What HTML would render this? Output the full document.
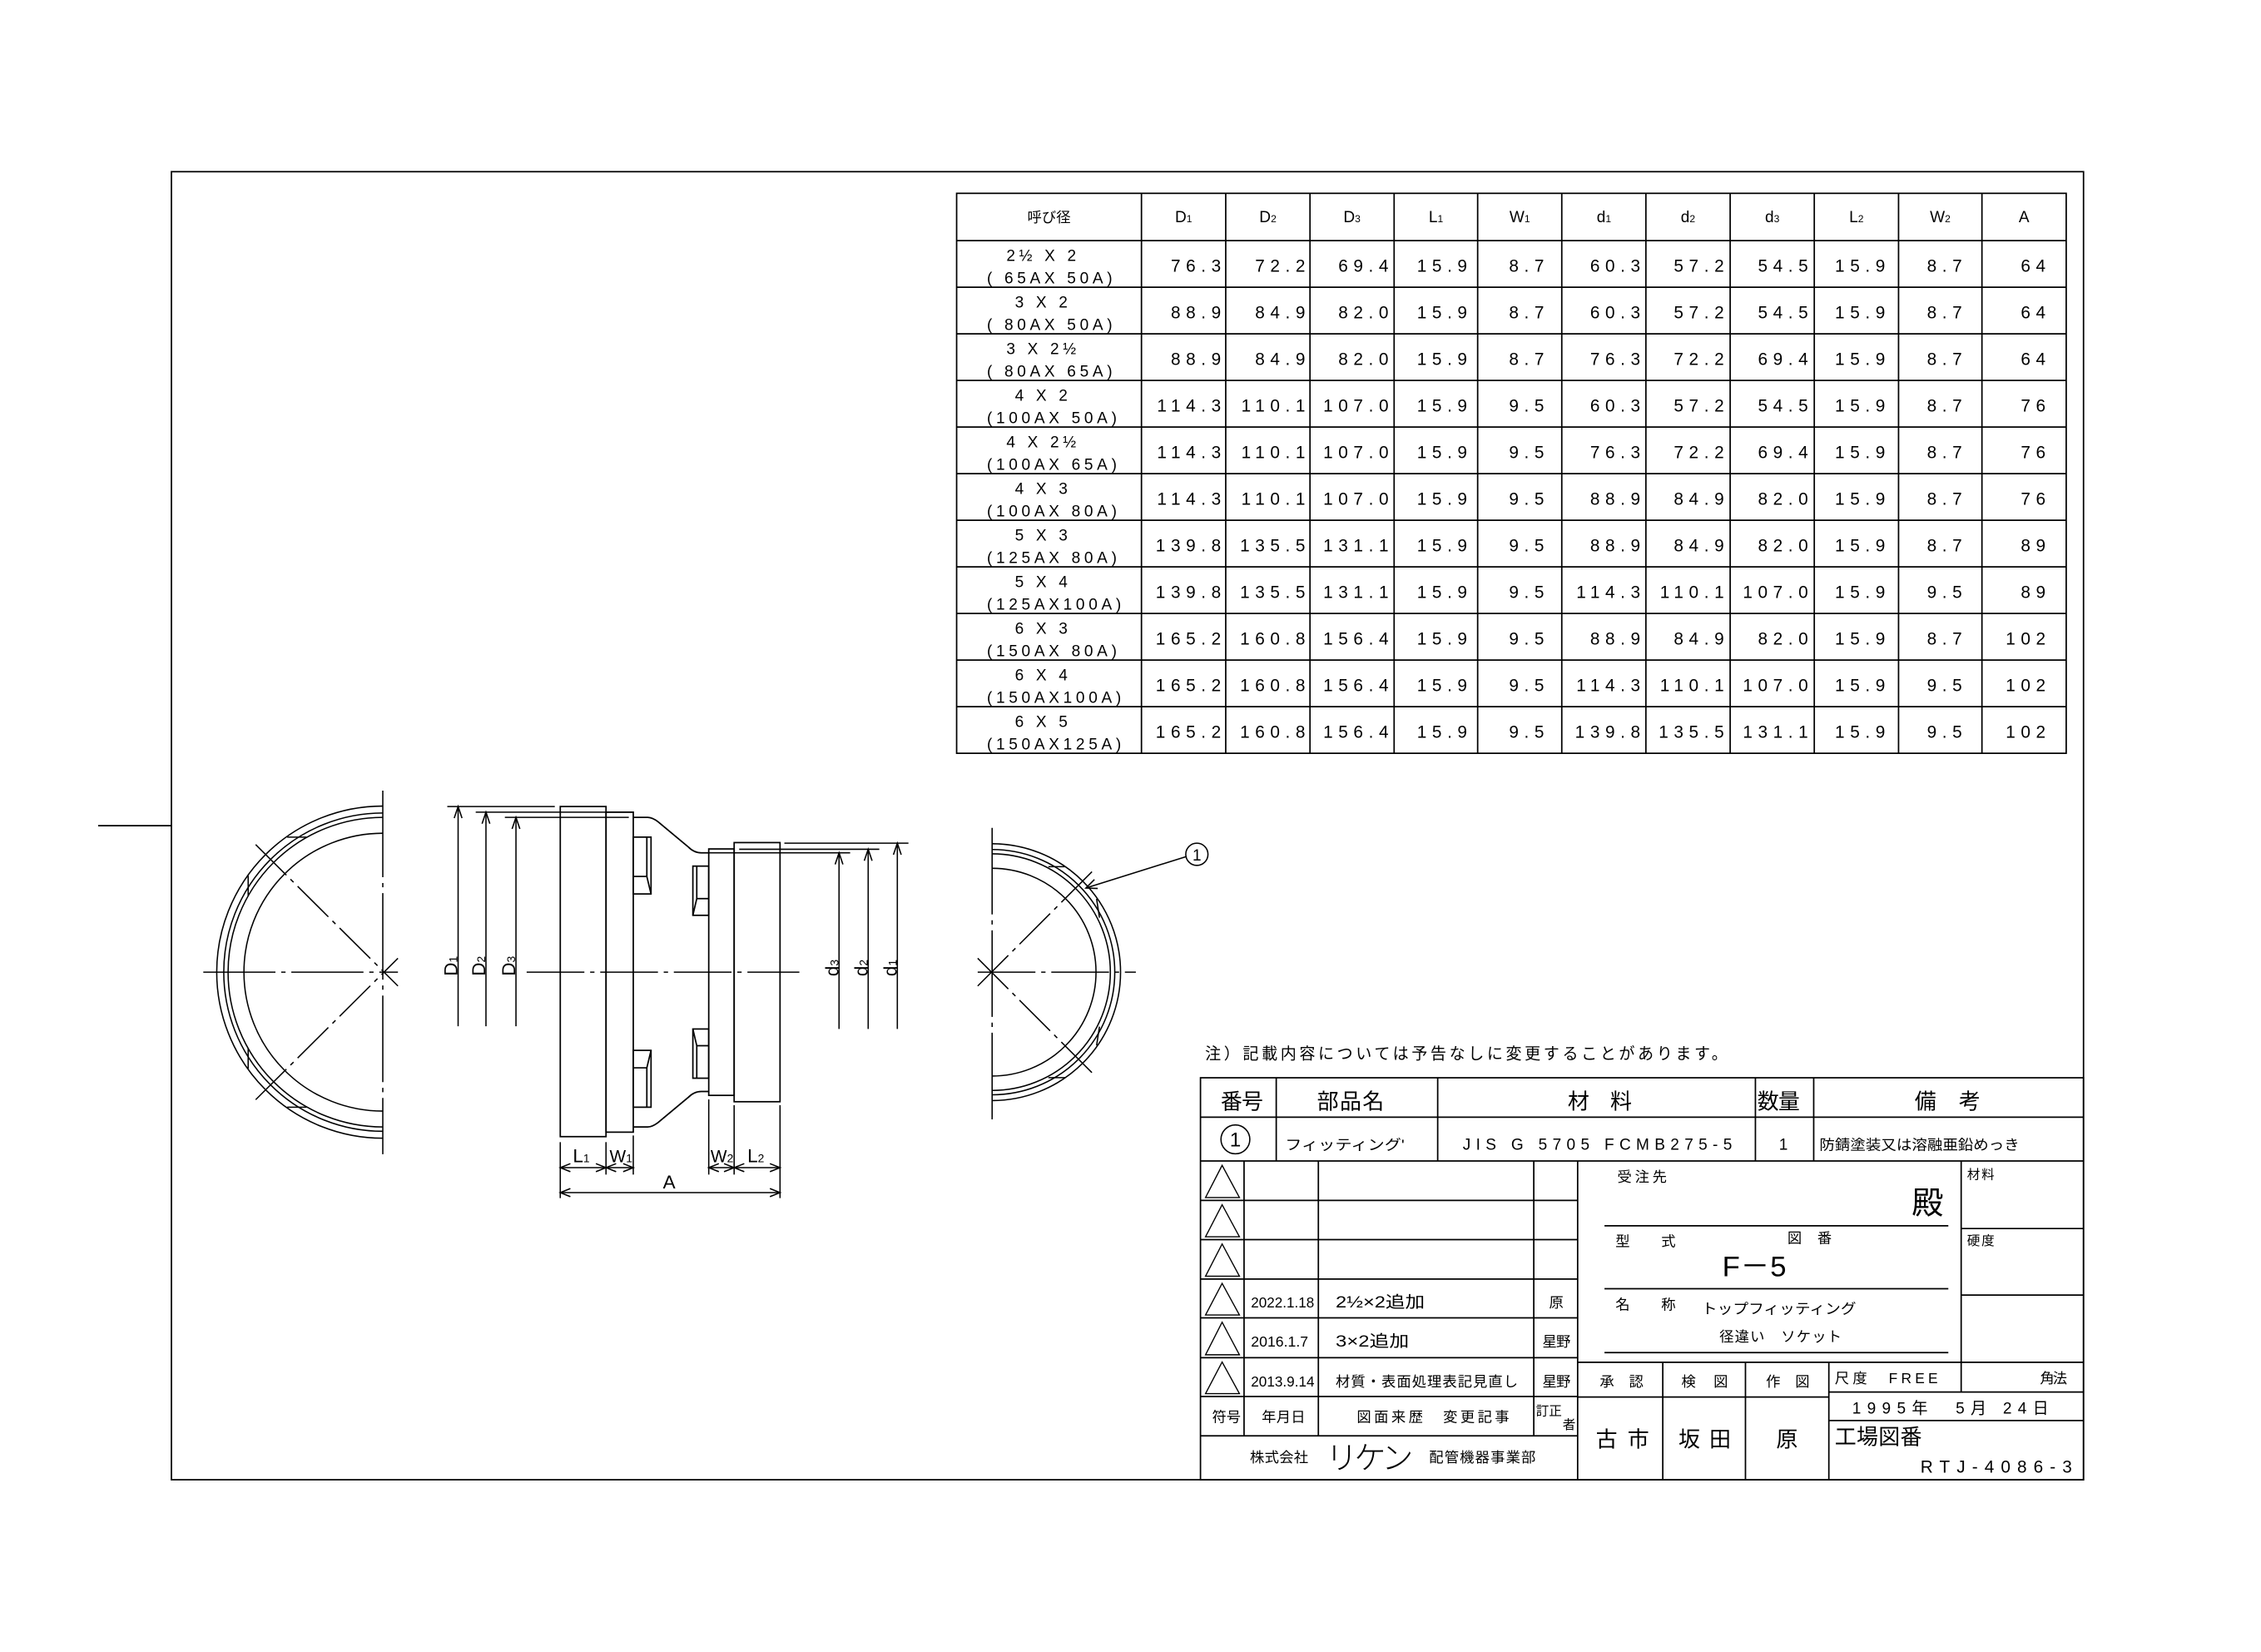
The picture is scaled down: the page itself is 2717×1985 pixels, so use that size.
<!DOCTYPE html>
<html><head><meta charset="utf-8">
<style>
html,body{margin:0;padding:0;background:#fff;}
svg{display:block;}
text{font-family:"Liberation Sans","Noto Sans CJK JP",sans-serif;fill:#000;white-space:pre;}
.n{font-size:12px;letter-spacing:3.8px;text-anchor:end;}
.c1{font-size:11px;letter-spacing:2.7px;}
.h{font-size:11px;text-anchor:middle;}
.j{font-family:"Noto Sans CJK JP","Liberation Sans",sans-serif;}
</style></head>
<body>
<svg width="2717" height="1985" viewBox="0 0 1567 1145" preserveAspectRatio="none" xmlns="http://www.w3.org/2000/svg">
<rect x="0" y="0" width="1567" height="1145" fill="#fff"/>
<g fill="none" stroke="#000" stroke-width="1">
<rect x="118.8" y="119" width="1325.2" height="906.6"/>
<line x1="68" y1="572.3" x2="118.8" y2="572.3"/>

<rect x="663" y="134" width="769" height="388.1"/>
<line x1="663" y1="166.8" x2="1432" y2="166.8"/>
<line x1="663" y1="199.1" x2="1432" y2="199.1"/>
<line x1="663" y1="231.4" x2="1432" y2="231.4"/>
<line x1="663" y1="263.7" x2="1432" y2="263.7"/>
<line x1="663" y1="296" x2="1432" y2="296"/>
<line x1="663" y1="328.3" x2="1432" y2="328.3"/>
<line x1="663" y1="360.6" x2="1432" y2="360.6"/>
<line x1="663" y1="392.9" x2="1432" y2="392.9"/>
<line x1="663" y1="425.2" x2="1432" y2="425.2"/>
<line x1="663" y1="457.5" x2="1432" y2="457.5"/>
<line x1="663" y1="489.8" x2="1432" y2="489.8"/>
<line x1="791.1" y1="134" x2="791.1" y2="522.1"/>
<line x1="849.5" y1="134" x2="849.5" y2="522.1"/>
<line x1="907.9" y1="134" x2="907.9" y2="522.1"/>
<line x1="966.2" y1="134" x2="966.2" y2="522.1"/>
<line x1="1024.1" y1="134" x2="1024.1" y2="522.1"/>
<line x1="1082.4" y1="134" x2="1082.4" y2="522.1"/>
<line x1="1140.7" y1="134" x2="1140.7" y2="522.1"/>
<line x1="1199.1" y1="134" x2="1199.1" y2="522.1"/>
<line x1="1257.4" y1="134" x2="1257.4" y2="522.1"/>
<line x1="1315.8" y1="134" x2="1315.8" y2="522.1"/>
<line x1="1373.6" y1="134" x2="1373.6" y2="522.1"/>

<!-- LEFT VIEW -->
<g stroke-width="0.9">
<path d="M265.3,558.7 A115,115 0 0 0 265.3,788.9"/>
<path d="M265.3,563.5 A110.3,110.3 0 0 0 265.3,784.1"/>
<path d="M265.3,566.5 A107.3,107.3 0 0 0 265.3,781.1"/>
<path d="M265.3,577.5 A96.3,96.3 0 0 0 265.3,770.1"/>
<line x1="199" y1="580.2" x2="212.4" y2="580.2"/>
<line x1="199" y1="767.4" x2="212.4" y2="767.4"/>
<line x1="172" y1="607" x2="172" y2="621"/>
<line x1="172" y1="726.6" x2="172" y2="740.6"/>
<line x1="265.3" y1="548" x2="265.3" y2="800" stroke-dasharray="60 4 3 4"/>
<line x1="140.9" y1="673.8" x2="275.8" y2="673.8" stroke-dasharray="50 4 3 4"/>
<line x1="177.2" y1="585.4" x2="275.8" y2="683.4" stroke-dasharray="30 4 3 4"/>
<line x1="177.2" y1="762.2" x2="275.8" y2="664.2" stroke-dasharray="30 4 3 4"/>
</g>

<!-- SIDE VIEW -->
<rect x="388.3" y="559" width="31.7" height="228.8"/>
<rect x="420" y="562.9" width="18.9" height="221.8"/>
<path d="M438.9,566.5 L448.9,566.5 Q452,566.5 456,569.5 L477,587 Q481,591.1 486,591.1 L491.2,591.1"/>
<path d="M438.9,781.1 L448.9,781.1 Q452,781.1 456,778.1 L477,760.6 Q481,756.5 486,756.5 L491.2,756.5"/>
<rect x="438.9" y="580.2" width="12.3" height="39.4"/>
<path d="M448.3,580.2 L448.3,607.5 L438.9,607.5 M448.3,607.5 L451.2,619.6"/>
<rect x="438.9" y="728" width="12.3" height="39.4"/>
<path d="M448.3,767.4 L448.3,740.1 L438.9,740.1 M448.3,740.1 L451.2,728"/>
<rect x="480.2" y="600.3" width="11" height="34.1"/>
<path d="M482.9,600.3 L482.9,622.8 L491.2,622.8 M482.9,622.8 L480.2,634.4"/>
<rect x="480.2" y="713.2" width="11" height="34.1"/>
<path d="M482.9,747.3 L482.9,724.8 L491.2,724.8 M482.9,724.8 L480.2,713.2"/>
<rect x="491.2" y="588.4" width="17.6" height="170.8"/>
<rect x="508.8" y="584" width="31.8" height="179.6"/>
<line x1="365" y1="673.8" x2="554" y2="673.8" stroke-width="0.9" stroke-dasharray="40 4 3 4"/>

<g stroke-width="0.9">
<line x1="310" y1="559" x2="384.5" y2="559"/>
<line x1="329.7" y1="562.9" x2="438.9" y2="562.9"/>
<line x1="349.9" y1="566.5" x2="435.8" y2="566.5"/>
<line x1="317.5" y1="559" x2="317.5" y2="711.3"/>
<line x1="336.8" y1="562.9" x2="336.8" y2="711.3"/>
<line x1="357.6" y1="566.5" x2="357.6" y2="711.3"/>
<path d="M314.8,567 L317.5,559 L320.2,567"/>
<path d="M334.1,570.9 L336.8,562.9 L339.5,570.9"/>
<path d="M354.9,574.5 L357.6,566.5 L360.3,574.5"/>
<line x1="543.6" y1="584.4" x2="629.6" y2="584.4"/>
<line x1="512.3" y1="588.6" x2="609.4" y2="588.6"/>
<line x1="491.2" y1="591.1" x2="589.2" y2="591.1"/>
<line x1="621.9" y1="584.4" x2="621.9" y2="713.2"/>
<line x1="601.7" y1="588.6" x2="601.7" y2="713.2"/>
<line x1="581.5" y1="591.1" x2="581.5" y2="713.2"/>
<path d="M619.2,592.4 L621.9,584.4 L624.6,592.4"/>
<path d="M599,596.6 L601.7,588.6 L604.4,596.6"/>
<path d="M578.8,599.1 L581.5,591.1 L584.2,599.1"/>
<line x1="388.3" y1="791.6" x2="388.3" y2="830.4"/>
<line x1="420" y1="791.6" x2="420" y2="814.1"/>
<line x1="438.9" y1="787" x2="438.9" y2="814.1"/>
<line x1="491.2" y1="762" x2="491.2" y2="814.1"/>
<line x1="508.8" y1="766" x2="508.8" y2="814.1"/>
<line x1="540.6" y1="766" x2="540.6" y2="830.4"/>
<line x1="388.3" y1="809.3" x2="438.9" y2="809.3"/>
<line x1="491.2" y1="809.3" x2="540.6" y2="809.3"/>
<line x1="388.3" y1="826.6" x2="540.6" y2="826.6"/>
<path d="M395.3,806.5 L388.3,809.3 L395.3,812.1 M413,806.5 L420,809.3 L413,812.1 M427,806.5 L420,809.3 L427,812.1 M431.9,806.5 L438.9,809.3 L431.9,812.1"/>
<path d="M498.2,806.5 L491.2,809.3 L498.2,812.1 M501.8,806.5 L508.8,809.3 L501.8,812.1 M515.8,806.5 L508.8,809.3 L515.8,812.1 M533.6,806.5 L540.6,809.3 L533.6,812.1"/>
<path d="M395.3,823.8 L388.3,826.6 L395.3,829.4 M533.6,823.8 L540.6,826.6 L533.6,829.4"/>
</g>

<!-- RIGHT VIEW -->
<g stroke-width="0.9">
<path d="M687.6,584.8 A89,89 0 0 1 687.6,762.8"/>
<path d="M687.6,588.8 A85,85 0 0 1 687.6,758.8"/>
<path d="M687.6,591.8 A82,82 0 0 1 687.6,755.8"/>
<path d="M687.6,601.8 A72,72 0 0 1 687.6,745.8"/>
<line x1="726.6" y1="600.7" x2="738.2" y2="600.7"/>
<line x1="726.6" y1="746.9" x2="738.2" y2="746.9"/>
<line x1="760" y1="623" x2="762" y2="636"/>
<line x1="760" y1="724.6" x2="762" y2="711.6"/>
<line x1="687.6" y1="573.8" x2="687.6" y2="776" stroke-dasharray="60 4 3 4"/>
<line x1="677.6" y1="673.8" x2="787.2" y2="673.8" stroke-dasharray="40 4 3 4"/>
<line x1="677.6" y1="683.4" x2="757.4" y2="603.6" stroke-dasharray="30 4 3 4"/>
<line x1="677.6" y1="664.2" x2="757.4" y2="744.1" stroke-dasharray="30 4 3 4"/>
<circle cx="829.5" cy="592.1" r="7.7"/>
<line x1="822.4" y1="593.6" x2="752.6" y2="615.5"/>
<path d="M758.5,609.6 L752.6,615.5 L760.8,615.8"/>
</g>

<!-- TITLE BLOCK -->
<rect x="832" y="747" width="612" height="278.6"/>
<line x1="832" y1="774.3" x2="1444" y2="774.3"/>
<line x1="832" y1="804.7" x2="1444" y2="804.7"/>
<line x1="884.5" y1="747" x2="884.5" y2="804.7"/>
<line x1="996.4" y1="747" x2="996.4" y2="804.7"/>
<line x1="1216.6" y1="747" x2="1216.6" y2="804.7"/>
<line x1="1257" y1="747" x2="1257" y2="804.7"/>
<line x1="832" y1="832" x2="1093.4" y2="832"/>
<line x1="832" y1="859.2" x2="1093.4" y2="859.2"/>
<line x1="832" y1="886.5" x2="1093.4" y2="886.5"/>
<line x1="832" y1="913.4" x2="1093.4" y2="913.4"/>
<line x1="832" y1="941" x2="1093.4" y2="941"/>
<line x1="832" y1="967.9" x2="1093.4" y2="967.9"/>
<line x1="832" y1="995.2" x2="1093.4" y2="995.2"/>
<line x1="862.2" y1="804.7" x2="862.2" y2="995.2"/>
<line x1="913.7" y1="804.7" x2="913.7" y2="995.2"/>
<line x1="1063" y1="804.7" x2="1063" y2="995.2"/>
<line x1="1093.4" y1="804.7" x2="1093.4" y2="1025.6"/>
<line x1="1112" y1="849.6" x2="1350.3" y2="849.6"/>
<line x1="1112" y1="893.2" x2="1350.3" y2="893.2"/>
<line x1="1112" y1="937.5" x2="1350.3" y2="937.5"/>
<line x1="1359.2" y1="804.7" x2="1359.2" y2="944.2"/>
<line x1="1359.2" y1="851.5" x2="1444" y2="851.5"/>
<line x1="1359.2" y1="897.6" x2="1444" y2="897.6"/>
<line x1="1093.4" y1="944.2" x2="1444" y2="944.2"/>
<line x1="1152.4" y1="944.2" x2="1152.4" y2="1025.6"/>
<line x1="1209.7" y1="944.2" x2="1209.7" y2="1025.6"/>
<line x1="1267.5" y1="944.2" x2="1267.5" y2="1025.6"/>
<line x1="1093.4" y1="968.3" x2="1267.5" y2="968.3"/>
<line x1="1359.2" y1="944.2" x2="1359.2" y2="964.8"/>
<line x1="1267.5" y1="964.8" x2="1444" y2="964.8"/>
<line x1="1267.5" y1="984.6" x2="1444" y2="984.6"/>
<g stroke-width="0.8">
<path d="M847,807.7 L835.5,830 L859,830 Z"/>
<path d="M847,835 L835.5,857.2 L859,857.2 Z"/>
<path d="M847,862.2 L835.5,884.5 L859,884.5 Z"/>
<path d="M847,889.5 L835.5,911.4 L859,911.4 Z"/>
<path d="M847,916.4 L835.5,939 L859,939 Z"/>
<path d="M847,944 L835.5,965.9 L859,965.9 Z"/>
</g>
<circle cx="856.2" cy="789.7" r="10" stroke-width="0.9"/>
</g>

<g class="j" font-size="10" text-anchor="middle"><text x="727" y="154" font-size="10">呼び径</text></g>
<g class="h">
<text x="820.3" y="154">D<tspan font-size="7">1</tspan></text>
<text x="878.7" y="154">D<tspan font-size="7">2</tspan></text>
<text x="937" y="154">D<tspan font-size="7">3</tspan></text>
<text x="995.2" y="154">L<tspan font-size="7">1</tspan></text>
<text x="1053.3" y="154">W<tspan font-size="7">1</tspan></text>
<text x="1111.6" y="154">d<tspan font-size="7">1</tspan></text>
<text x="1169.9" y="154">d<tspan font-size="7">2</tspan></text>
<text x="1228.3" y="154">d<tspan font-size="7">3</tspan></text>
<text x="1286.6" y="154">L<tspan font-size="7">2</tspan></text>
<text x="1344.7" y="154">W<tspan font-size="7">2</tspan></text>
<text x="1402.8" y="154">A</text>
</g>

<g class="c1">
<g transform="translate(0,166.8)"><text x="723" y="14" text-anchor="middle">2½ X 2</text><text x="684" y="29.5">( 65AX 50A)</text></g>
<g transform="translate(0,199.1)"><text x="723" y="14" text-anchor="middle">3 X 2</text><text x="684" y="29.5">( 80AX 50A)</text></g>
<g transform="translate(0,231.4)"><text x="723" y="14" text-anchor="middle">3 X 2½</text><text x="684" y="29.5">( 80AX 65A)</text></g>
<g transform="translate(0,263.7)"><text x="723" y="14" text-anchor="middle">4 X 2</text><text x="684" y="29.5">(100AX 50A)</text></g>
<g transform="translate(0,296)"><text x="723" y="14" text-anchor="middle">4 X 2½</text><text x="684" y="29.5">(100AX 65A)</text></g>
<g transform="translate(0,328.3)"><text x="723" y="14" text-anchor="middle">4 X 3</text><text x="684" y="29.5">(100AX 80A)</text></g>
<g transform="translate(0,360.6)"><text x="723" y="14" text-anchor="middle">5 X 3</text><text x="684" y="29.5">(125AX 80A)</text></g>
<g transform="translate(0,392.9)"><text x="723" y="14" text-anchor="middle">5 X 4</text><text x="684" y="29.5">(125AX100A)</text></g>
<g transform="translate(0,425.2)"><text x="723" y="14" text-anchor="middle">6 X 3</text><text x="684" y="29.5">(150AX 80A)</text></g>
<g transform="translate(0,457.5)"><text x="723" y="14" text-anchor="middle">6 X 4</text><text x="684" y="29.5">(150AX100A)</text></g>
<g transform="translate(0,489.8)"><text x="723" y="14" text-anchor="middle">6 X 5</text><text x="684" y="29.5">(150AX125A)</text></g>
</g>

<g class="n">
<g transform="translate(0,188.4)"><text x="850">76.3</text><text x="908.4">72.2</text><text x="966.1">69.4</text><text x="1020.6">15.9</text><text x="1073.9">8.7</text><text x="1140.6">60.3</text><text x="1198.6">57.2</text><text x="1256.9">54.5</text><text x="1310.3">15.9</text><text x="1363.6">8.7</text><text x="1421.5">64</text></g>
<g transform="translate(0,220.7)"><text x="850">88.9</text><text x="908.4">84.9</text><text x="966.1">82.0</text><text x="1020.6">15.9</text><text x="1073.9">8.7</text><text x="1140.6">60.3</text><text x="1198.6">57.2</text><text x="1256.9">54.5</text><text x="1310.3">15.9</text><text x="1363.6">8.7</text><text x="1421.5">64</text></g>
<g transform="translate(0,253)"><text x="850">88.9</text><text x="908.4">84.9</text><text x="966.1">82.0</text><text x="1020.6">15.9</text><text x="1073.9">8.7</text><text x="1140.6">76.3</text><text x="1198.6">72.2</text><text x="1256.9">69.4</text><text x="1310.3">15.9</text><text x="1363.6">8.7</text><text x="1421.5">64</text></g>
<g transform="translate(0,285.3)"><text x="850">114.3</text><text x="908.4">110.1</text><text x="966.1">107.0</text><text x="1020.6">15.9</text><text x="1073.9">9.5</text><text x="1140.6">60.3</text><text x="1198.6">57.2</text><text x="1256.9">54.5</text><text x="1310.3">15.9</text><text x="1363.6">8.7</text><text x="1421.5">76</text></g>
<g transform="translate(0,317.6)"><text x="850">114.3</text><text x="908.4">110.1</text><text x="966.1">107.0</text><text x="1020.6">15.9</text><text x="1073.9">9.5</text><text x="1140.6">76.3</text><text x="1198.6">72.2</text><text x="1256.9">69.4</text><text x="1310.3">15.9</text><text x="1363.6">8.7</text><text x="1421.5">76</text></g>
<g transform="translate(0,349.9)"><text x="850">114.3</text><text x="908.4">110.1</text><text x="966.1">107.0</text><text x="1020.6">15.9</text><text x="1073.9">9.5</text><text x="1140.6">88.9</text><text x="1198.6">84.9</text><text x="1256.9">82.0</text><text x="1310.3">15.9</text><text x="1363.6">8.7</text><text x="1421.5">76</text></g>
<g transform="translate(0,382.2)"><text x="850">139.8</text><text x="908.4">135.5</text><text x="966.1">131.1</text><text x="1020.6">15.9</text><text x="1073.9">9.5</text><text x="1140.6">88.9</text><text x="1198.6">84.9</text><text x="1256.9">82.0</text><text x="1310.3">15.9</text><text x="1363.6">8.7</text><text x="1421.5">89</text></g>
<g transform="translate(0,414.5)"><text x="850">139.8</text><text x="908.4">135.5</text><text x="966.1">131.1</text><text x="1020.6">15.9</text><text x="1073.9">9.5</text><text x="1140.6">114.3</text><text x="1198.6">110.1</text><text x="1256.9">107.0</text><text x="1310.3">15.9</text><text x="1363.6">9.5</text><text x="1421.5">89</text></g>
<g transform="translate(0,446.8)"><text x="850">165.2</text><text x="908.4">160.8</text><text x="966.1">156.4</text><text x="1020.6">15.9</text><text x="1073.9">9.5</text><text x="1140.6">88.9</text><text x="1198.6">84.9</text><text x="1256.9">82.0</text><text x="1310.3">15.9</text><text x="1363.6">8.7</text><text x="1421.5">102</text></g>
<g transform="translate(0,479.1)"><text x="850">165.2</text><text x="908.4">160.8</text><text x="966.1">156.4</text><text x="1020.6">15.9</text><text x="1073.9">9.5</text><text x="1140.6">114.3</text><text x="1198.6">110.1</text><text x="1256.9">107.0</text><text x="1310.3">15.9</text><text x="1363.6">9.5</text><text x="1421.5">102</text></g>
<g transform="translate(0,511.4)"><text x="850">165.2</text><text x="908.4">160.8</text><text x="966.1">156.4</text><text x="1020.6">15.9</text><text x="1073.9">9.5</text><text x="1140.6">139.8</text><text x="1198.6">135.5</text><text x="1256.9">131.1</text><text x="1310.3">15.9</text><text x="1363.6">9.5</text><text x="1421.5">102</text></g>
</g>

<g font-size="13">
<text transform="translate(317,676.5) rotate(-90)">D<tspan font-size="8">1</tspan></text>
<text transform="translate(336.3,676.5) rotate(-90)">D<tspan font-size="8">2</tspan></text>
<text transform="translate(357.1,676.5) rotate(-90)">D<tspan font-size="8">3</tspan></text>
<text transform="translate(581,676.7) rotate(-90)">d<tspan font-size="8">3</tspan></text>
<text transform="translate(601.2,676.7) rotate(-90)">d<tspan font-size="8">2</tspan></text>
<text transform="translate(621.4,676.7) rotate(-90)">d<tspan font-size="8">1</tspan></text>
<text x="397" y="805.5">L<tspan font-size="8">1</tspan></text>
<text x="422.5" y="805.5" font-size="12">W<tspan font-size="8">1</tspan></text>
<text x="492.5" y="805.5" font-size="12">W<tspan font-size="8">2</tspan></text>
<text x="518" y="805.5">L<tspan font-size="8">2</tspan></text>
<text x="463.8" y="823.7" text-anchor="middle">A</text>
<text x="829.5" y="596.3" font-size="11" text-anchor="middle">1</text>
</g>

<text class="j" x="835.2" y="734" font-size="11" textLength="362" lengthAdjust="spacing">注）記載内容については予告なしに変更することがあります。</text>

<g class="j">
<text x="846" y="768.7" font-size="15" textLength="29.5" lengthAdjust="spacing">番号</text>
<text x="912.8" y="768.7" font-size="15" textLength="46.5" lengthAdjust="spacing">部品名</text>
<text x="1086.5" y="768.7" font-size="15" textLength="44.5" lengthAdjust="spacing">材料</text>
<text x="1217.9" y="768.7" font-size="15" textLength="29.5" lengthAdjust="spacing">数量</text>
<text x="1326.9" y="768.7" font-size="15" textLength="45.7" lengthAdjust="spacing">備考</text>
<text x="856.2" y="794.5" font-size="14" text-anchor="middle">1</text>
<text x="890.6" y="797" font-size="10" textLength="82.8" lengthAdjust="spacingAndGlyphs">フィッティング'</text>
<text x="1013.8" y="797" font-size="11" textLength="186.6" lengthAdjust="spacing">JIS G 5705 FCMB275-5</text>
<text x="1236" y="797" font-size="11" text-anchor="middle">1</text>
<text x="1261" y="797" font-size="10" textLength="138.6" lengthAdjust="spacingAndGlyphs">防錆塗装又は溶融亜鉛めっき</text>

<text x="867" y="906.3" font-size="10" textLength="43.8" lengthAdjust="spacingAndGlyphs">2022.1.18</text>
<text x="925.7" y="906.3" font-size="11" textLength="61.8" lengthAdjust="spacingAndGlyphs">2½×2追加</text>
<text x="1073.6" y="906.3" font-size="10">原</text>
<text x="867" y="933.4" font-size="10" textLength="39.7" lengthAdjust="spacingAndGlyphs">2016.1.7</text>
<text x="925.7" y="933.4" font-size="11" textLength="50.9" lengthAdjust="spacingAndGlyphs">3×2追加</text>
<text x="1069" y="933.4" font-size="10" textLength="19.5" lengthAdjust="spacing">星野</text>
<text x="867" y="961" font-size="10" textLength="44" lengthAdjust="spacingAndGlyphs">2013.9.14</text>
<text x="925.7" y="961" font-size="10" textLength="126.3" lengthAdjust="spacing">材質・表面処理表記見直し</text>
<text x="1069" y="961" font-size="10" textLength="19.5" lengthAdjust="spacing">星野</text>
<text x="840" y="985.6" font-size="10" textLength="20" lengthAdjust="spacing">符号</text>
<text x="874.4" y="985.6" font-size="10" textLength="30.3" lengthAdjust="spacing">年月日</text>
<text x="940.3" y="985.6" font-size="10" textLength="105.7" lengthAdjust="spacing">図面来歴　変更記事</text>
<text x="1064.5" y="981" font-size="9" textLength="18" lengthAdjust="spacing">訂正</text>
<text x="1083" y="990.4" font-size="9">者</text>
<text x="866.3" y="1013.5" font-size="10" textLength="40.4" lengthAdjust="spacing">株式会社</text>
<text x="918.9" y="1018" font-size="22" font-weight="300" textLength="60.6" lengthAdjust="spacing">リケン</text>
<text x="990.4" y="1013.5" font-size="10" textLength="73.9" lengthAdjust="spacing">配管機器事業部</text>

<text x="1120.9" y="819" font-size="10" textLength="34.3" lengthAdjust="spacing">受注先</text>
<text x="1324.9" y="841.3" font-size="22">殿</text>
<text x="1119.6" y="863.8" font-size="10" textLength="41.7" lengthAdjust="spacing">型式</text>
<text x="1238.8" y="861.5" font-size="10" textLength="30.7" lengthAdjust="spacing">図番</text>
<text x="1193.6" y="884.6" font-size="20" font-family="Liberation Sans" textLength="44.4" lengthAdjust="spacing">F－5</text>
<text x="1119.6" y="907.6" font-size="10" textLength="41.7" lengthAdjust="spacing">名称</text>
<text x="1179.4" y="910.5" font-size="10" textLength="107.1" lengthAdjust="spacingAndGlyphs">トップフィッティング</text>
<text x="1191.6" y="929.8" font-size="10" textLength="84.8" lengthAdjust="spacing">径違い　ソケット</text>
<text x="1363.3" y="817" font-size="9" textLength="19" lengthAdjust="spacing">材料</text>
<text x="1363.3" y="863" font-size="9" textLength="19" lengthAdjust="spacing">硬度</text>
<text x="1108.7" y="961" font-size="10" textLength="30.3" lengthAdjust="spacing">承認</text>
<text x="1165.3" y="961" font-size="10" textLength="32.3" lengthAdjust="spacing">検図</text>
<text x="1223.9" y="961" font-size="10" textLength="30.3" lengthAdjust="spacing">作図</text>
<text x="1271.6" y="958.7" font-size="10" textLength="71.4" lengthAdjust="spacing">尺度　FREE</text>
<text x="1413.8" y="958.7" font-size="10" textLength="18.9" lengthAdjust="spacing">角法</text>
<text x="1283.7" y="979.8" font-size="11" textLength="136.1" lengthAdjust="spacing">1995年　5月 24日</text>
<text x="1271.6" y="1001" font-size="15" textLength="60.4" lengthAdjust="spacing">工場図番</text>
<text x="1331" y="1020.8" font-size="12" font-family="Liberation Sans" textLength="105" lengthAdjust="spacing">RTJ-4086-3</text>
<text x="1106" y="1002.9" font-size="15" textLength="37" lengthAdjust="spacing">古市</text>
<text x="1163.3" y="1002.9" font-size="15" textLength="36.3" lengthAdjust="spacing">坂田</text>
<text x="1231" y="1002.9" font-size="15">原</text>
</g>
</svg>
</body></html>
